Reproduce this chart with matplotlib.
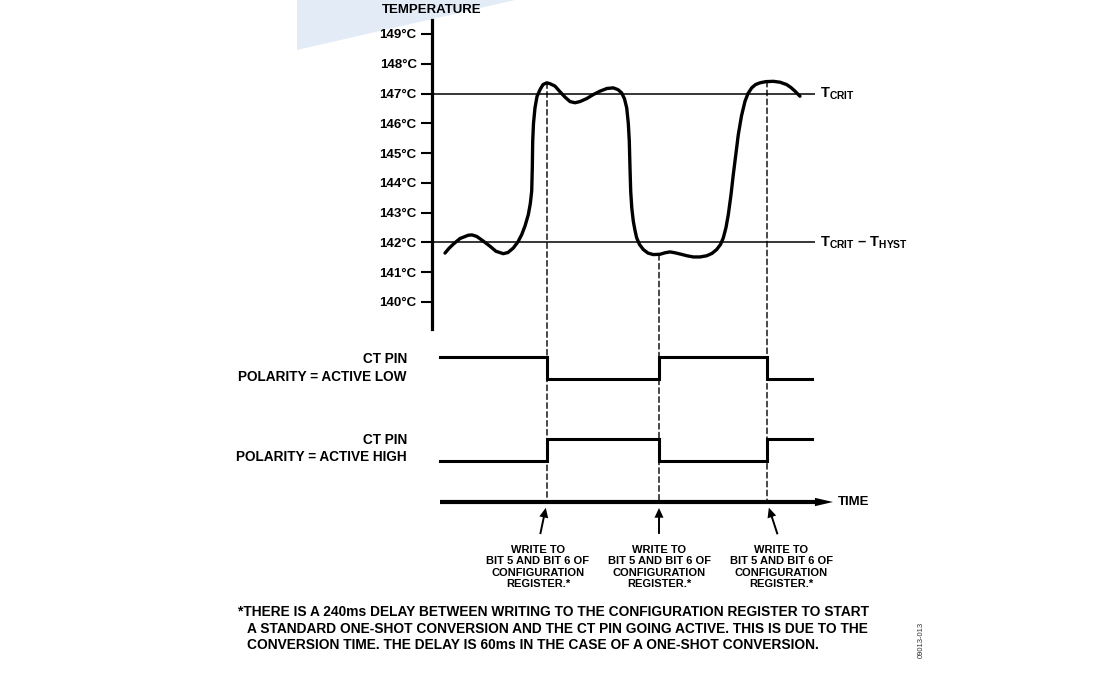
import matplotlib
matplotlib.use('Agg')
import matplotlib.pyplot as plt
from matplotlib.patches import ConnectionPatch, Polygon

plt.rcParams['font.family'] = ['Liberation Sans', 'DejaVu Sans']
plt.rcParams['font.weight'] = 'bold'
plt.rcParams['mathtext.fontset'] = 'custom'
plt.rcParams['mathtext.rm'] = 'Liberation Sans:bold'
plt.rcParams['mathtext.bf'] = 'Liberation Sans:bold'
plt.rcParams['mathtext.it'] = 'Liberation Sans:bold'

# time is in arbitrary units (the diagram has no time scale)
curve_time = [13, 17, 21.3, 28, 36.3, 40, 44.7, 51, 58, 64, 71.3, 76, 81.3, 86, 89.7, 93,
              96.3, 98.3, 99.7, 100.3, 100.7, 101.5, 103, 105, 108, 111, 114.7, 118, 123,
              128, 133, 138, 143, 148, 154.7, 161, 168, 175, 181.3, 186, 189.7, 192.5,
              194.7, 196.3, 197.3, 198, 198.7, 199.8, 201.3, 203, 204.7, 207.5, 211.3, 216,
              221.3, 228, 233, 238, 243, 248, 255, 261.3, 268, 274.7, 280, 284.7, 288.5,
              291.3, 294, 296.3, 299, 301.3, 304, 306.3, 309.5, 313, 316, 319.7, 323.5, 328,
              334, 341.3, 348, 354.7, 359, 363, 368]
curve_temp = [141.64, 141.8, 141.94, 142.13, 142.24, 142.25, 142.2, 142.05, 141.87, 141.7,
              141.62, 141.66, 141.81, 142.02, 142.26, 142.55, 142.93, 143.3, 143.72, 144.5,
              145.4, 146.0, 146.52, 146.9, 147.13, 147.3, 147.36, 147.33, 147.25, 147.06,
              146.88, 146.73, 146.69, 146.73, 146.83, 146.96, 147.08, 147.17, 147.19, 147.13,
              147.02, 146.82, 146.52, 146.0, 145.4, 144.5, 143.72, 143.15, 142.71, 142.4,
              142.15, 141.93, 141.76, 141.64, 141.59, 141.6, 141.65, 141.68, 141.65, 141.61,
              141.55, 141.51, 141.51, 141.55, 141.63, 141.76, 141.93, 142.15, 142.5, 142.93,
              143.6, 144.28, 145.0, 145.62, 146.25, 146.74, 147.0, 147.19, 147.3, 147.36,
              147.4, 147.41, 147.38, 147.3, 147.2, 147.08, 146.91]
temp_ticks = [140, 141, 142, 143, 144, 145, 146, 147, 148, 149]
t_crit = 147
t_crit_minus_hyst = 142
write_times = [115, 227, 335]
write_temps = [147.36, 141.59, 147.41]
pin_time = [8, 115, 227, 335, 380]
pin_active_low = [1, 0, 1, 0, 0]
pin_active_high = [0, 1, 0, 1, 1]
time_start, time_end = 8, 401

write_label = 'WRITE TO\nBIT 5 AND BIT 6 OF\nCONFIGURATION\nREGISTER.*'
footnote = ['*THERE IS A 240ms DELAY BETWEEN WRITING TO THE CONFIGURATION REGISTER TO START',
            'A STANDARD ONE-SHOT CONVERSION AND THE CT PIN GOING ACTIVE. THIS IS DUE TO THE',
            'CONVERSION TIME. THE DELAY IS 60ms IN THE CASE OF A ONE-SHOT CONVERSION.']

W, H = 1110, 673


def box(left, top, right, bottom):
    return [left / W, 1 - bottom / H, (right - left) / W, (bottom - top) / H]


def fx(x):
    return x / W


def fy(y):
    return 1 - y / H


fig = plt.figure(figsize=(W / 100, H / 100), dpi=100)

# faint logo remnant in the corner
fig.patches.append(Polygon([(fx(297), fy(0)), (fx(297), fy(50)), (fx(515), fy(0))],
                           closed=True, transform=fig.transFigure,
                           facecolor='#e3ecf6', edgecolor='none', zorder=-5))

XLIM = (0, 408)

# temperature plot
ax_t = fig.add_axes(box(432, 20, 840, 329))
ax_t.set_xlim(XLIM)
ax_t.set_ylim(139.09, 149.47)
ax_t.patch.set_visible(False)
for side in ['top', 'right', 'bottom']:
    ax_t.spines[side].set_visible(False)
ax_t.spines['left'].set_linewidth(2.3)
ax_t.set_xticks([])
ax_t.set_yticks(temp_ticks, labels=[f'{v}°C' for v in temp_ticks])
ax_t.tick_params(axis='y', direction='out', length=8, width=1.5, pad=3, labelsize=9.5)
ax_t.hlines([t_crit, t_crit_minus_hyst], 0, 383, color='k', lw=1.1)
ax_t.plot(curve_time, curve_temp, color='k', lw=2.4,
          solid_capstyle='round', solid_joinstyle='round')
ax_t.annotate('TEMPERATURE', xy=(0, 1), xycoords='axes fraction', xytext=(0, 10),
              textcoords='offset pixels', ha='center', va='center', fontsize=9.5)
ax_t.text(388, t_crit, r'$\mathbf{T_{CRIT}}$', va='center', ha='left', fontsize=10.5)
ax_t.text(388, t_crit_minus_hyst, r'$\mathbf{T_{CRIT}}$ – $\mathbf{T_{HYST}}$',
          va='center', ha='left', fontsize=10.5)

# CT pin waveforms
ax_lo = fig.add_axes(box(432, 346, 840, 390))
ax_hi = fig.add_axes(box(432, 428, 840, 472))
for ax, levels in [(ax_lo, pin_active_low), (ax_hi, pin_active_high)]:
    ax.set_xlim(XLIM)
    ax.set_ylim(-0.5, 1.5)
    ax.set_axis_off()
    ax.step(pin_time, levels, where='post', color='k', lw=2.2, solid_joinstyle='miter')

fig.text(fx(407), fy(359), 'CT PIN', ha='right', va='center', fontsize=9.8)
fig.text(fx(407), fy(377), 'POLARITY = ACTIVE LOW', ha='right', va='center', fontsize=9.8)
fig.text(fx(407), fy(440), 'CT PIN', ha='right', va='center', fontsize=9.8)
fig.text(fx(407), fy(457), 'POLARITY = ACTIVE HIGH', ha='right', va='center', fontsize=9.8)

# time axis
ax_time = fig.add_axes(box(432, 482, 840, 522))
ax_time.set_xlim(XLIM)
ax_time.set_ylim(-1, 1)
ax_time.set_axis_off()
ax_time.annotate('', xy=(time_end, 0), xytext=(time_start, 0), annotation_clip=False,
                 arrowprops=dict(arrowstyle='simple,head_length=1.3,head_width=0.6,tail_width=0.3',
                                 mutation_scale=10, fc='k', ec='none', shrinkA=0, shrinkB=0))
ax_time.text(406, 0, 'TIME', ha='left', va='center', fontsize=9.5)

label_dx = [-9, 0, 14]
for t, temp, dx in zip(write_times, write_temps, label_dx):
    con = ConnectionPatch(xyA=(t, temp), coordsA='data', axesA=ax_t,
                          xyB=(t, 0), coordsB='data', axesB=ax_time,
                          color='k', lw=1.0, linestyle=(0, (4, 2.4)), zorder=1)
    fig.add_artist(con)
    ax_time.annotate(write_label, xy=(t, 0), xytext=(dx, -43), textcoords='offset pixels',
                     ha='center', va='top', fontsize=8, linespacing=1.18,
                     annotation_clip=False,
                     arrowprops=dict(arrowstyle='simple,head_length=0.7,head_width=0.65,tail_width=0.14',
                                     mutation_scale=10, fc='k', ec='none',
                                     shrinkA=6, shrinkB=4.3, relpos=(0.5, 1)))

# footnote
fig.text(fx(238), fy(612), footnote[0], ha='left', va='center', fontsize=9.9)
fig.text(fx(247), fy(629), footnote[1], ha='left', va='center', fontsize=9.9)
fig.text(fx(247), fy(645), footnote[2], ha='left', va='center', fontsize=9.9)

fig.text(fx(921), fy(640), '09013-013', rotation=90, ha='center', va='center',
         fontsize=5.5, color='#333333', fontweight='normal')

fig.savefig('out.png', dpi=100)
